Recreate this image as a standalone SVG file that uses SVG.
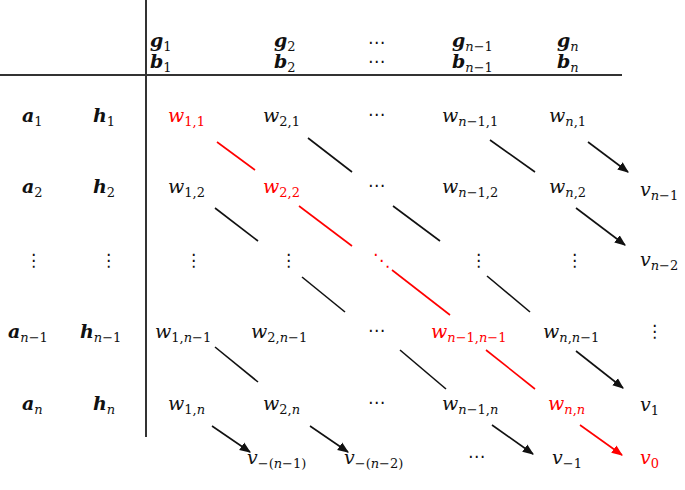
<svg xmlns="http://www.w3.org/2000/svg" width="685" height="490" viewBox="0 0 685 490">
<style>
text{font-family:"DejaVu Serif","Liberation Serif",serif;font-size:19px;fill:#111}
.b{font-weight:bold;font-style:italic}
.i{font-style:italic}
.s{font-size:13px;font-style:normal;font-weight:normal}
.si{font-size:13px;font-style:italic;font-weight:normal}
.r{fill:#f00}
.d{font-family:"DejaVu Sans",sans-serif;font-size:17px}
.k line{stroke:#111;stroke-width:1.6}
.k line.red{stroke:#f00}
</style>
<defs>
<marker id="ab" viewBox="0 0 10 10" refX="9" refY="5" markerWidth="7" markerHeight="7" orient="auto"><path d="M0,1L10,5L0,9z" fill="#111"/></marker>
<marker id="ar" viewBox="0 0 10 10" refX="9" refY="5" markerWidth="7" markerHeight="7" orient="auto"><path d="M0,1L10,5L0,9z" fill="#f00"/></marker>
</defs>
<g id="axes"><line x1="0" y1="75" x2="622" y2="75" stroke="#333" stroke-width="2"/><line x1="146" y1="0" x2="146" y2="437" stroke="#333" stroke-width="2"/></g>
<g id="header">
<text x="150" y="47" class="b">g<tspan class="s" dy="4">1</tspan></text>
<text x="274" y="47" class="b">g<tspan class="s" dy="4">2</tspan></text>
<text x="368" y="48" class="d">⋯</text>
<text x="452" y="47" class="b">g<tspan class="si" dy="4">n</tspan><tspan class="s">−1</tspan></text>
<text x="557" y="47" class="b">g<tspan class="si" dy="4">n</tspan></text>
<text x="150" y="68" class="b">b<tspan class="s" dy="4">1</tspan></text>
<text x="274" y="68" class="b">b<tspan class="s" dy="4">2</tspan></text>
<text x="368" y="67" class="d">⋯</text>
<text x="452" y="68" class="b">b<tspan class="si" dy="4">n</tspan><tspan class="s">−1</tspan></text>
<text x="557" y="68" class="b">b<tspan class="si" dy="4">n</tspan></text>
</g>
<g id="left">
<text x="22" y="122" class="b">a<tspan class="s" dy="4">1</tspan></text>
<text x="93" y="122" class="b">h<tspan class="s" dy="4">1</tspan></text>
<text x="22" y="193" class="b">a<tspan class="s" dy="4">2</tspan></text>
<text x="93" y="193" class="b">h<tspan class="s" dy="4">2</tspan></text>
<text x="25" y="266" class="d">⋮</text>
<text x="100" y="266" class="d">⋮</text>
<text x="8" y="338" class="b">a<tspan class="si" dy="4">n</tspan><tspan class="s">−1</tspan></text>
<text x="80" y="338" class="b">h<tspan class="si" dy="4">n</tspan><tspan class="s">−1</tspan></text>
<text x="22" y="410" class="b">a<tspan class="si" dy="4">n</tspan></text>
<text x="93" y="410" class="b">h<tspan class="si" dy="4">n</tspan></text>
</g>
<g id="cells">
<text x="168" y="122" class="i r">w<tspan class="s r" dy="4">1,1</tspan></text>
<text x="263" y="122" class="i">w<tspan class="s" dy="4">2,1</tspan></text>
<text x="368" y="120" class="d">⋯</text>
<text x="442" y="122" class="i">w<tspan class="si" dy="4">n</tspan><tspan class="s">−1,1</tspan></text>
<text x="549" y="122" class="i">w<tspan class="si" dy="4">n</tspan><tspan class="s">,1</tspan></text>
<text x="168" y="193" class="i">w<tspan class="s" dy="4">1,2</tspan></text>
<text x="263" y="193" class="i r">w<tspan class="s r" dy="4">2,2</tspan></text>
<text x="368" y="191" class="d">⋯</text>
<text x="442" y="193" class="i">w<tspan class="si" dy="4">n</tspan><tspan class="s">−1,2</tspan></text>
<text x="549" y="193" class="i">w<tspan class="si" dy="4">n</tspan><tspan class="s">,2</tspan></text>
<text x="185" y="266" class="d">⋮</text>
<text x="280" y="266" class="d">⋮</text>
<text x="373" y="266" class="d r">⋱</text>
<text x="470" y="266" class="d">⋮</text>
<text x="566" y="266" class="d">⋮</text>
<text x="155" y="338" class="i">w<tspan class="s" dy="4">1,</tspan><tspan class="si">n</tspan><tspan class="s">−1</tspan></text>
<text x="251" y="338" class="i">w<tspan class="s" dy="4">2,</tspan><tspan class="si">n</tspan><tspan class="s">−1</tspan></text>
<text x="368" y="336" class="d">⋯</text>
<text x="431" y="338" class="i r">w<tspan class="si r" dy="4">n</tspan><tspan class="s r">−1,</tspan><tspan class="si r">n</tspan><tspan class="s r">−1</tspan></text>
<text x="543" y="338" class="i">w<tspan class="si" dy="4">n</tspan><tspan class="s">,</tspan><tspan class="si">n</tspan><tspan class="s">−1</tspan></text>
<text x="168" y="410" class="i">w<tspan class="s" dy="4">1,</tspan><tspan class="si">n</tspan></text>
<text x="263" y="410" class="i">w<tspan class="s" dy="4">2,</tspan><tspan class="si">n</tspan></text>
<text x="368" y="408" class="d">⋯</text>
<text x="442" y="410" class="i">w<tspan class="si" dy="4">n</tspan><tspan class="s">−1,</tspan><tspan class="si">n</tspan></text>
<text x="548" y="410" class="i r">w<tspan class="si r" dy="4">n</tspan><tspan class="s r">,</tspan><tspan class="si r">n</tspan></text>
</g>
<g id="vright">
<text x="640" y="196" class="i">v<tspan class="si" dy="4">n</tspan><tspan class="s">−1</tspan></text>
<text x="640" y="266" class="i">v<tspan class="si" dy="4">n</tspan><tspan class="s">−2</tspan></text>
<text x="646" y="337" class="d">⋮</text>
<text x="640" y="411" class="i">v<tspan class="s" dy="4">1</tspan></text>
</g>
<g id="vbottom">
<text x="247" y="464" class="i">v<tspan class="s" dy="4">−(</tspan><tspan class="si">n</tspan><tspan class="s">−1)</tspan></text>
<text x="344" y="464" class="i">v<tspan class="s" dy="4">−(</tspan><tspan class="si">n</tspan><tspan class="s">−2)</tspan></text>
<text x="468" y="462" class="d">⋯</text>
<text x="552" y="464" class="i">v<tspan class="s" dy="4">−1</tspan></text>
<text x="640" y="464" class="i r">v<tspan class="s r" dy="4">0</tspan></text>
</g>
<g id="connectors" class="k">
<line class="red" x1="217" y1="142" x2="255" y2="170"/>
<line x1="308" y1="138" x2="352" y2="172"/>
<line x1="490" y1="140" x2="535" y2="172"/>
<line x1="588" y1="142" x2="628" y2="172" marker-end="url(#ab)"/>
<line x1="215" y1="208" x2="258" y2="241"/>
<line class="red" x1="299" y1="206" x2="352" y2="246"/>
<line x1="393" y1="206" x2="440" y2="241"/>
<line x1="576" y1="208" x2="625" y2="245" marker-end="url(#ab)"/>
<line x1="302" y1="277" x2="345" y2="312"/>
<line class="red" x1="392" y1="270" x2="450" y2="315"/>
<line x1="487" y1="276" x2="530" y2="312"/>
<line x1="215" y1="347" x2="258" y2="382"/>
<line x1="400" y1="350" x2="446" y2="389"/>
<line class="red" x1="486" y1="350" x2="535" y2="389"/>
<line x1="576" y1="351" x2="623" y2="388" marker-end="url(#ab)"/>
<line x1="212" y1="426" x2="250" y2="452" marker-end="url(#ab)"/>
<line x1="310" y1="426" x2="348" y2="452" marker-end="url(#ab)"/>
<line x1="492" y1="425" x2="533" y2="454" marker-end="url(#ab)"/>
<line class="red" x1="580" y1="425" x2="622" y2="455" marker-end="url(#ar)"/>
</g>
</svg>
